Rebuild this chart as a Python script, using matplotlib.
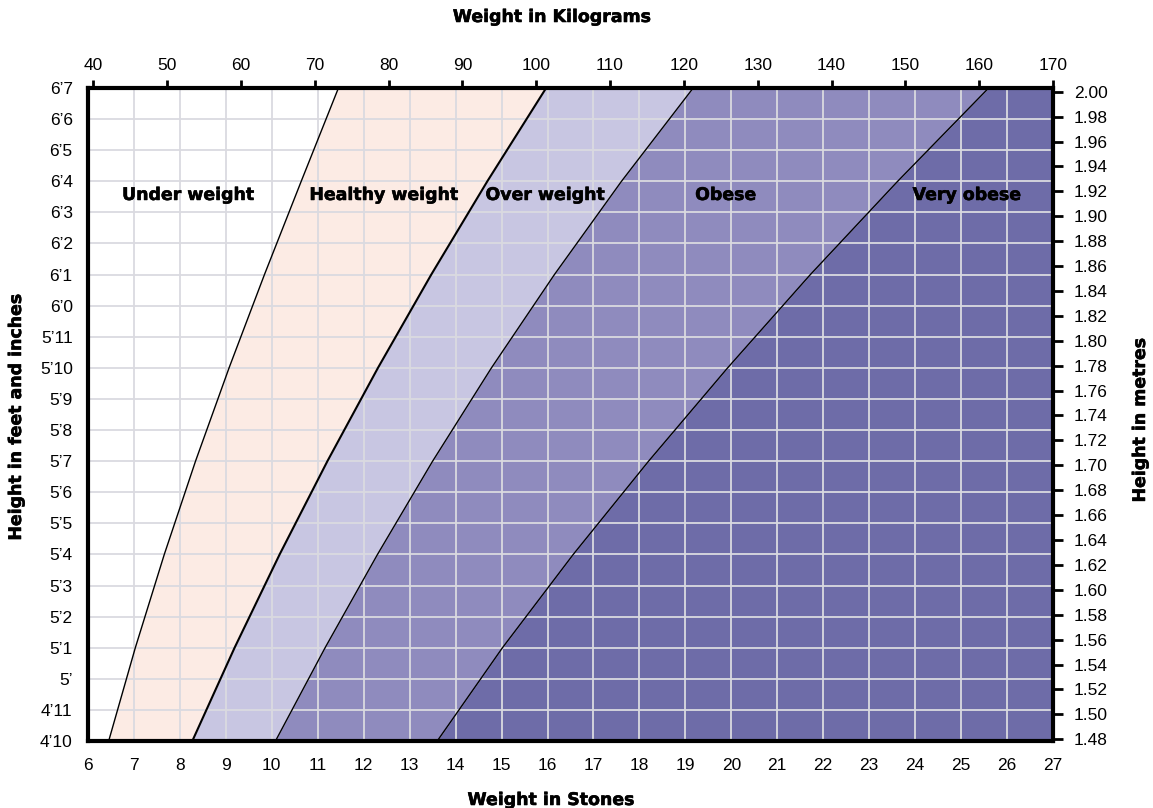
import matplotlib
matplotlib.use("Agg")
import matplotlib.pyplot as plt
import matplotlib.patheffects as pe

# heights (inches) at which the band edges were read, and the edge weights in stones
HEIGHT_IN = [58, 61, 64, 67, 70, 73, 76, 79]
UNDER_EDGE = [6.45, 7.03, 7.66, 8.34, 9.07, 9.84, 10.64, 11.45]
HEALTHY_EDGE = [8.27, 9.19, 10.17, 11.21, 12.31, 13.47, 14.69, 15.97]
OVER_EDGE = [10.08, 11.16, 12.30, 13.50, 14.78, 16.15, 17.61, 19.17]
OBESE_EDGE = [13.60, 15.02, 16.56, 18.20, 19.92, 21.72, 23.62, 25.60]

BANDS = ["Under weight", "Healthy weight", "Over weight", "Obese", "Very obese"]
BAND_COLORS = ["#ffffff", "#fcebe4", "#c8c6e2", "#8f8bbe", "#6e6ca8"]

STONE_TICKS = list(range(6, 28))
KG_TICKS = list(range(40, 171, 10))
INCH_TICKS = list(range(58, 80))
INCH_LABELS = ["4\u201910", "4\u201911", "5\u2019"] + ["5\u2019%d" % i for i in range(1, 12)] + \
              ["6\u2019%d" % i for i in range(0, 8)]
METRE_TICKS = [round(1.48 + 0.02 * i, 2) for i in range(27)]

plt.rcParams["font.family"] = ["Liberation Sans", "DejaVu Sans"]
HEAVY = ["DejaVu Sans"]
TICK_FS = 12.5
TICK_FONT = "Liberation Sans"
THICK = [pe.withStroke(linewidth=0.4, foreground="black")]

W, H = 1153, 808
fig = plt.figure(figsize=(W / 100, H / 100), dpi=100)
ax = fig.add_axes([88 / W, 1 - 741 / H, (1053 - 88) / W, (741 - 88) / H])
ax.set_xlim(6, 27)
ax.set_ylim(58, 79)

edges = [UNDER_EDGE, HEALTHY_EDGE, OVER_EDGE, OBESE_EDGE]
right = [27] * len(HEIGHT_IN)
for i in range(1, 5):
    lo = edges[i - 1]
    hi = edges[i] if i < 4 else right
    ax.fill_betweenx(HEIGHT_IN, lo, hi, color=BAND_COLORS[i], lw=0, zorder=1)
for k, e in enumerate(edges):
    ax.plot(e, HEIGHT_IN, color="black", lw=1.5 if k == 1 else 1.0, zorder=3)

ax.set_xticks(STONE_TICKS)
ax.set_yticks(INCH_TICKS)
ax.set_yticklabels(INCH_LABELS)
ax.grid(True, color="#dadae0", lw=1.3, zorder=2)
ax.set_axisbelow(False)
ax.tick_params(axis="x", length=0, pad=12, labelsize=TICK_FS, labelfontfamily=TICK_FONT)
ax.tick_params(axis="y", length=0, pad=11, labelsize=TICK_FS, labelfontfamily=TICK_FONT)
for s in ax.spines.values():
    s.set_linewidth(3)
    s.set_zorder(5)

label_pos = [(8.18, 75.56), (12.44, 75.56), (15.95, 75.56), (19.88, 75.56), (25.13, 75.56)]
for name, (x, y) in zip(BANDS, label_pos):
    ax.text(x, y, name, ha="center", va="center", fontsize=12.5, fontweight="bold",
            family=HEAVY, zorder=4, path_effects=THICK)

# top axis: kilograms
top = ax.twiny()
top.set_xlim(40 - 130 * 5.3 / 960, 170)
top.set_xticks(KG_TICKS)
top.tick_params(axis="x", length=6, width=2, pad=5, labelsize=TICK_FS, direction="out",
                labelfontfamily=TICK_FONT)
for s in top.spines.values():
    s.set_visible(False)

# right axis: metres
rax = ax.twinx()
rax.set_ylim(1.48 - 1.7 / 1245.4, 2.00 + 3.7 / 1245.4)
rax.set_yticks(METRE_TICKS)
rax.set_yticklabels(["%.2f" % v for v in METRE_TICKS])
rax.tick_params(axis="y", length=7, width=2, pad=8, labelsize=TICK_FS, direction="out",
                labelfontfamily=TICK_FONT)
for s in rax.spines.values():
    s.set_visible(False)

title_kw = dict(ha="center", va="center", fontsize=12.5, fontweight="bold", family=HEAVY,
                path_effects=THICK)
fig.text(552 / W, 1 - 17 / H, "Weight in Kilograms", **title_kw)
fig.text(551 / W, 1 - 800 / H, "Weight in Stones", **title_kw)
fig.text(16 / W, 1 - 417 / H, "Height in feet and inches", rotation=90, **title_kw)
fig.text(1140 / W, 1 - 420 / H, "Height in metres", rotation=90, **title_kw)

fig.savefig("out.png", dpi=100, facecolor="white")
